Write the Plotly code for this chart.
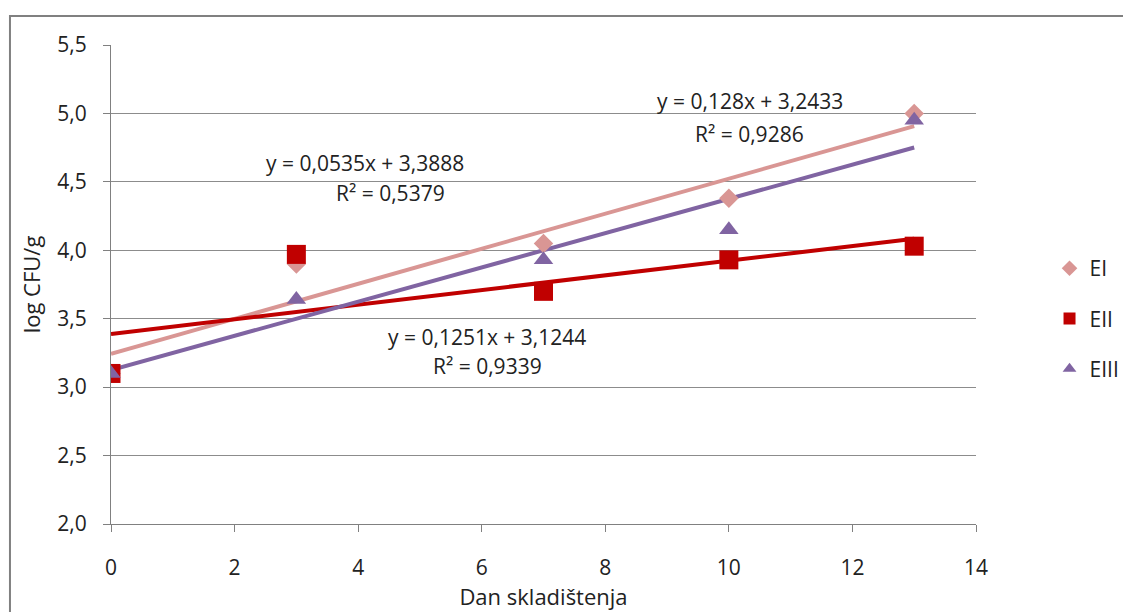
import plotly.graph_objects as go

days = [0, 3, 7, 10, 13]
ei = [3.10, 3.90, 4.05, 4.38, 5.00]
eii = [3.10, 3.97, 3.70, 3.93, 4.03]
eiii = [3.10, 3.64, 3.93, 4.15, 4.95]

series_names = ["EI", "EII", "EIII"]
slopes = [0.128, 0.0535, 0.1251]
intercepts = [3.2433, 3.3888, 3.1244]
eq_labels = ["y = 0,128x + 3,2433", "y = 0,0535x + 3,3888", "y = 0,1251x + 3,1244"]
r2_labels = ["R² = 0,9286", "R² = 0,5379", "R² = 0,9339"]
eq_pos = [(10.34, 5.09), (4.11, 4.64), (6.09, 3.37)]
r2_pos = [(10.34, 4.85), (4.53, 4.42), (6.09, 3.155)]

y_ticks = [2.0, 2.5, 3.0, 3.5, 4.0, 4.5, 5.0, 5.5]
y_tick_text = ["2,0", "2,5", "3,0", "3,5", "4,0", "4,5", "5,0", "5,5"]
x_ticks = [0, 2, 4, 6, 8, 10, 12, 14]

colors = ["#D99694", "#C00000", "#8064A2"]
symbols = ["diamond", "square", "triangle-up"]
sizes = [15, 19, 17]
data = [ei, eii, eiii]

FONT = "Open Sans"
TXT = "#222222"
fig = go.Figure()

# trendlines (drawn under markers)
for i in range(3):
    xs = [days[0], days[-1]]
    ys = [intercepts[i] + slopes[i] * x for x in xs]
    fig.add_trace(go.Scatter(x=xs, y=ys, mode="lines",
                             line=dict(color=colors[i], width=4),
                             showlegend=False, hoverinfo="skip"))

for i in range(3):
    fig.add_trace(go.Scatter(x=days, y=data[i], mode="markers", name=series_names[i],
                             legendgroup=series_names[i],
                             marker=dict(symbol=symbols[i], size=sizes[i], color=colors[i])))

for i in range(3):
    fig.add_annotation(x=eq_pos[i][0], y=eq_pos[i][1], text=eq_labels[i], showarrow=False,
                       font=dict(family=FONT, size=21, color=TXT), xanchor="center", yanchor="middle")
    fig.add_annotation(x=r2_pos[i][0], y=r2_pos[i][1], text=r2_labels[i], showarrow=False,
                       font=dict(family=FONT, size=21, color=TXT), xanchor="center", yanchor="middle")

# outer chart border
fig.add_shape(type="rect", xref="paper", yref="paper", x0=-0.1168, x1=1.35, y0=-0.3, y1=1.0605,
              line=dict(color="#808080", width=2), fillcolor="rgba(0,0,0,0)", layer="below")

fig.update_layout(
    width=1163, height=604,
    margin=dict(l=103, r=195, t=37, b=88),
    paper_bgcolor="white", plot_bgcolor="white",
    font=dict(family=FONT, size=21, color=TXT),
    showlegend=True,
    legend=dict(x=1.085, y=0.576, xanchor="left", yanchor="top",
                font=dict(family=FONT, size=21, color=TXT),
                tracegroupgap=20, traceorder="grouped", itemsizing="constant",
                bgcolor="rgba(0,0,0,0)"),
    xaxis=dict(range=[0, 14], tickvals=x_ticks, ticks="outside", ticklen=7, tickcolor="#808080",
               showline=True, linecolor="#808080", linewidth=1, showgrid=False, zeroline=False,
               ticklabelstandoff=18,
               tickfont=dict(family=FONT, size=21, color=TXT),
               title=dict(text="Dan skladištenja", font=dict(family=FONT, size=22, color=TXT), standoff=3)),
    yaxis=dict(range=[2.0, 5.5], tickvals=y_ticks, ticktext=y_tick_text, ticks="outside", ticklen=7,
               tickcolor="#808080", showline=True, linecolor="#808080", linewidth=1,
               showgrid=True, gridcolor="#8c8c8c", gridwidth=1, zeroline=False,
               ticklabelstandoff=12,
               tickfont=dict(family=FONT, size=21, color=TXT),
               title=dict(text="log CFU/g", font=dict(family=FONT, size=22, color=TXT), standoff=10)),
)

fig.write_html("out.html")
